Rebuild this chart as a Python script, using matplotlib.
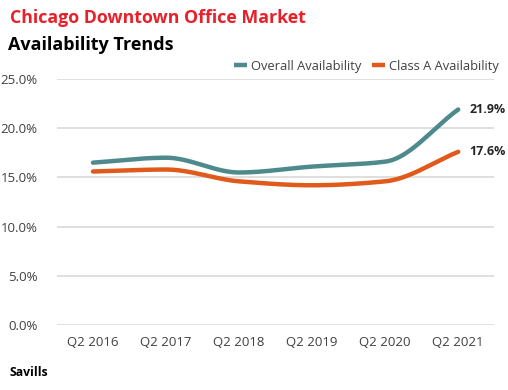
import numpy as np
import matplotlib
matplotlib.use("Agg")
import matplotlib.pyplot as plt

categories = ["Q2 2016", "Q2 2017", "Q2 2018", "Q2 2019", "Q2 2020", "Q2 2021"]
overall = [16.5, 17.0, 15.5, 16.1, 16.6, 21.9]
class_a = [15.6, 15.8, 14.6, 14.2, 14.6, 17.6]

teal = "#4e8a8c"
orange = "#e05a1c"


def smooth(y, n=40):
    y = np.asarray(y, float)
    x = np.arange(len(y), dtype=float)
    d = np.diff(y)
    m = np.zeros_like(y)
    m[0], m[-1] = d[0], d[-1]
    for i in range(1, len(y) - 1):
        if d[i - 1] * d[i] <= 0:
            m[i] = 0
        else:
            m[i] = 2 / (1 / d[i - 1] + 1 / d[i])
    xs, ys = [], []
    for i in range(len(y) - 1):
        t = np.linspace(0, 1, n)
        h00 = 2 * t**3 - 3 * t**2 + 1
        h10 = t**3 - 2 * t**2 + t
        h01 = -2 * t**3 + 3 * t**2
        h11 = t**3 - t**2
        xs.append(x[i] + t)
        ys.append(h00 * y[i] + h10 * m[i] + h01 * y[i + 1] + h11 * m[i + 1])
    return np.concatenate(xs), np.concatenate(ys)


fig = plt.figure(figsize=(5.08, 3.9), dpi=100)
ax = fig.add_axes([57 / 508, 1 - 325 / 390, (494 - 57) / 508, (325 - 79) / 390])

xs, ys = smooth(overall)
ax.plot(xs, ys, color=teal, lw=3.2, solid_capstyle="round", label="Overall Availability", zorder=3)
xs, ys = smooth(class_a)
ax.plot(xs, ys, color=orange, lw=3.2, solid_capstyle="round", label="Class A Availability", zorder=3)

ax.set_ylim(0, 25)
ax.set_xlim(-0.493, 5.49)
ax.set_yticks(np.arange(0, 25.1, 5))
ax.set_yticklabels([f"{v:.1f}%" for v in np.arange(0, 25.1, 5)])
ax.set_xticks(range(len(categories)))
ax.set_xticklabels(categories)
ax.grid(axis="y", color="#d9d9d9", lw=1.2)
ax.set_axisbelow(True)
for s in ax.spines.values():
    s.set_visible(False)
ax.tick_params(length=0, labelsize=9.5, colors="#404040", pad=8)
for lab in ax.get_xticklabels() + ax.get_yticklabels():
    lab.set_family("Open Sans")
ax.tick_params(axis="y", pad=14)

ax.annotate(f"{overall[-1]:.1f}%", (5, overall[-1]), xytext=(8, 0), textcoords="offset points",
            va="center", ha="left", fontsize=9, fontweight="bold", color="#262626", family="Open Sans")
ax.annotate(f"{class_a[-1]:.1f}%", (5, class_a[-1]), xytext=(8, 0), textcoords="offset points",
            va="center", ha="left", fontsize=9, fontweight="bold", color="#262626", family="Open Sans")

leg = ax.legend(loc="lower right", bbox_to_anchor=(1.025, 1.0), ncol=2, frameon=False,
                handlelength=1.0, handletextpad=0.3, columnspacing=0.8,
                prop={"family": "Open Sans", "size": 9.3}, borderaxespad=0.1)
for t in leg.get_texts():
    t.set_color("#404040")
for h in leg.get_lines():
    h.set_solid_capstyle("butt")

fig.text(10 / 508, 1 - 18 / 390, "Chicago Downtown Office Market", color="#e8202a",
         fontsize=12.8, fontweight="bold", family="Open Sans", va="center", ha="left")
fig.text(8 / 508, 1 - 45 / 390, "Availability Trends", color="#000000",
         fontsize=13, fontweight="bold", family="Open Sans", va="center", ha="left")
fig.text(10 / 508, 1 - 373 / 390, "Savills", color="#000000",
         fontsize=8.8, fontweight="bold", family="Open Sans", va="center", ha="left")

fig.savefig("out.png", dpi=100, facecolor="white")
